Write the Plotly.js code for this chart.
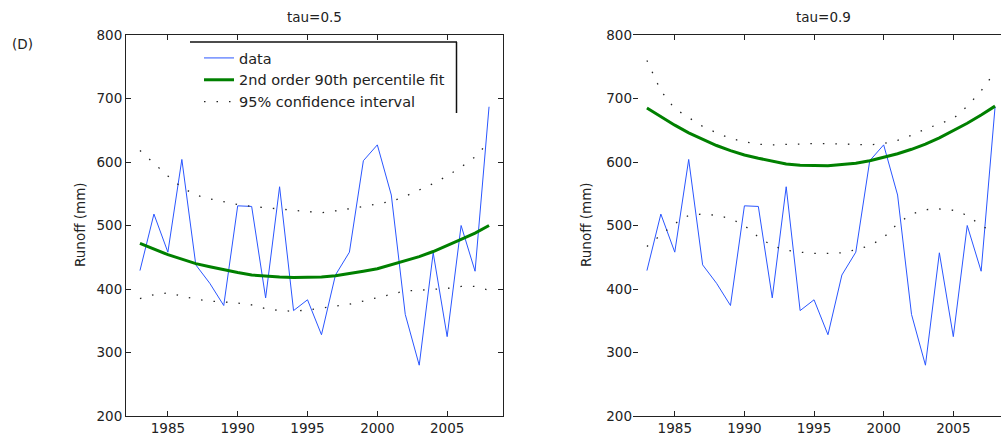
<!DOCTYPE html>
<html>
<head>
<meta charset="utf-8">
<script src="https://cdn.plot.ly/plotly-3.0.1.min.js"></script>
<style>
html,body{margin:0;padding:0;overflow:hidden;background:#fff;}
#chart{width:1012px;height:440px;}
</style>
</head>
<body>
<div id="chart"></div>
<script>
// ---- data ----
const years = [1983,1984,1985,1986,1987,1988,1989,1990,1991,1992,1993,1994,1995,1996,1997,1998,1999,2000,2001,2002,2003,2004,2005,2006,2007,2008];
const runoff = [429,518,458,604,438,409,374,531,530,386,561,366,383,328,422,458,602,627,548,360,280,457,325,500,428,687];

// tau = 0.5
const fit05   = [472,463,454,447,440,435,430,426,422,420,419,418,418,419,421,424,428,432,438,444,451,459,468,478,488,500];
const upper05 = [618,598,578,560,548,542,537,533,530,528,526,524,522,520,523,526,530,534,538,546,556,566,578,592,608,632];
const lower05 = [385,391,394,389,384,381,380,378,375,369,366,365,367,370,372,376,381,386,392,397,398,399,401,404,404,398];

// tau = 0.9
const fit09   = [685,671,658,646,636,626,618,611,606,601,597,595,594,594,596,598,602,607,613,620,628,638,649,661,674,688];
const upper09 = [760,712,684,670,656,646,637,632,628,627,628,629,629,629,628,627,627,629,634,642,652,660,668,688,712,742];
const lower09 = [467,485,503,516,518,516,511,500,482,468,461,458,456,456,457,462,468,481,503,518,525,526,524,516,500,488];

const panelTitles = ['tau=0.5','tau=0.9'];
const seriesNames = ['data','2nd order 90th percentile fit','95% confidence interval'];
const yTitle = 'Runoff (mm)';
const panelLabel = '(D)';

// ---- styles ----
const BLUE = '#2a56ff', GREEN = '#008000', DOT = '#222222';
const FONT = 'DejaVu Sans, Liberation Sans, sans-serif';
const TXT = '#222';
const FS = 13.5;
const dotDash = '1.5px,11px';

function panelTraces(fit, up, lo, xa, ya, legend){
  return [
    {x: years, y: runoff, xaxis: xa, yaxis: ya, type:'scatter', mode:'lines',
     name: seriesNames[0], showlegend: legend, line:{color:BLUE, width:1}},
    {x: years, y: fit, xaxis: xa, yaxis: ya, type:'scatter', mode:'lines',
     name: seriesNames[1], showlegend: legend, line:{color:GREEN, width:3}},
    {x: years, y: up, xaxis: xa, yaxis: ya, type:'scatter', mode:'lines',
     name: seriesNames[2], showlegend: legend, line:{color:DOT, width:1.3, dash:dotDash}},
    {x: years, y: lo, xaxis: xa, yaxis: ya, type:'scatter', mode:'lines',
     name: seriesNames[2], showlegend: false, line:{color:DOT, width:1.3, dash:dotDash}}
  ];
}

const traces = [].concat(
  panelTraces(fit05, upper05, lower05, 'x', 'y', true),
  panelTraces(fit09, upper09, lower09, 'x2', 'y2', false)
);

const W = 1012, H = 440, L = 126, R = 3, T = 35, B = 24;
const pw = W - L - R, ph = H - T - B;
const px = v => (v - L) / pw;
const py = v => (H - B - v) / ph;

const xCommon = {range:[1982, 2009], tickvals:[1985,1990,1995,2000,2005], ticks:'inside', ticklen:5,
  tickcolor:'#222', showgrid:false, zeroline:false, showline:true, linecolor:'#222', linewidth:1,
  tickfont:{family:FONT, size:FS, color:TXT}};
const yCommon = {range:[200, 800], dtick:100, ticks:'inside', ticklen:5, tickcolor:'#222',
  showgrid:false, zeroline:false, linecolor:'#222', linewidth:1,
  tickfont:{family:FONT, size:FS, color:TXT}};

const layout = {
  width: W, height: H,
  margin:{l:L, r:R, t:T, b:B},
  paper_bgcolor:'#fff', plot_bgcolor:'#fff',
  font:{family:FONT, size:FS, color:TXT},
  xaxis: Object.assign({}, xCommon, {domain:[0, px(503)], anchor:'y', mirror:'ticks'}),
  yaxis: Object.assign({}, yCommon, {domain:[0,1], anchor:'x', showline:true, mirror:'ticks'}),
  xaxis2: Object.assign({}, xCommon, {domain:[px(633), 1], anchor:'y2', mirror:'ticks'}),
  yaxis2: Object.assign({}, yCommon, {domain:[0,1], anchor:'x2', showline:false}),
  showlegend: true,
  legend:{x: px(199), y: py(42), xanchor:'left', yanchor:'top', bgcolor:'rgba(255,255,255,0)',
    borderwidth:0, font:{family:FONT, size:14.5, color:TXT}, tracegroupgap:0},
  annotations:[
    {text: panelTitles[0], xref:'paper', yref:'paper', x: px(314), y: py(17), showarrow:false,
     xanchor:'center', yanchor:'middle', font:{family:FONT, size:FS, color:TXT}},
    {text: panelTitles[1], xref:'paper', yref:'paper', x: px(823), y: py(17), showarrow:false,
     xanchor:'center', yanchor:'middle', font:{family:FONT, size:FS, color:TXT}},
    {text: panelLabel, xref:'paper', yref:'paper', x: px(22), y: py(44), showarrow:false,
     xanchor:'center', yanchor:'middle', font:{family:FONT, size:FS, color:TXT}},
    {text: yTitle, xref:'paper', yref:'paper', x: px(80), y: py(225), showarrow:false, textangle:-90,
     xanchor:'center', yanchor:'middle', font:{family:FONT, size:FS, color:TXT}},
    {text: yTitle, xref:'paper', yref:'paper', x: px(586), y: py(225), showarrow:false, textangle:-90,
     xanchor:'center', yanchor:'middle', font:{family:FONT, size:FS, color:TXT}}
  ],
  shapes:[
    {type:'line', xref:'paper', yref:'paper', x0: px(190), x1: px(457), y0: py(42), y1: py(42),
     line:{color:'#111', width:1.5}},
    {type:'line', xref:'paper', yref:'paper', x0: px(456.5), x1: px(456.5), y0: py(42), y1: py(113),
     line:{color:'#111', width:1.5}}
  ]
};

Plotly.newPlot('chart', traces, layout, {displayModeBar:false, staticPlot:true});
</script>
</body>
</html>
